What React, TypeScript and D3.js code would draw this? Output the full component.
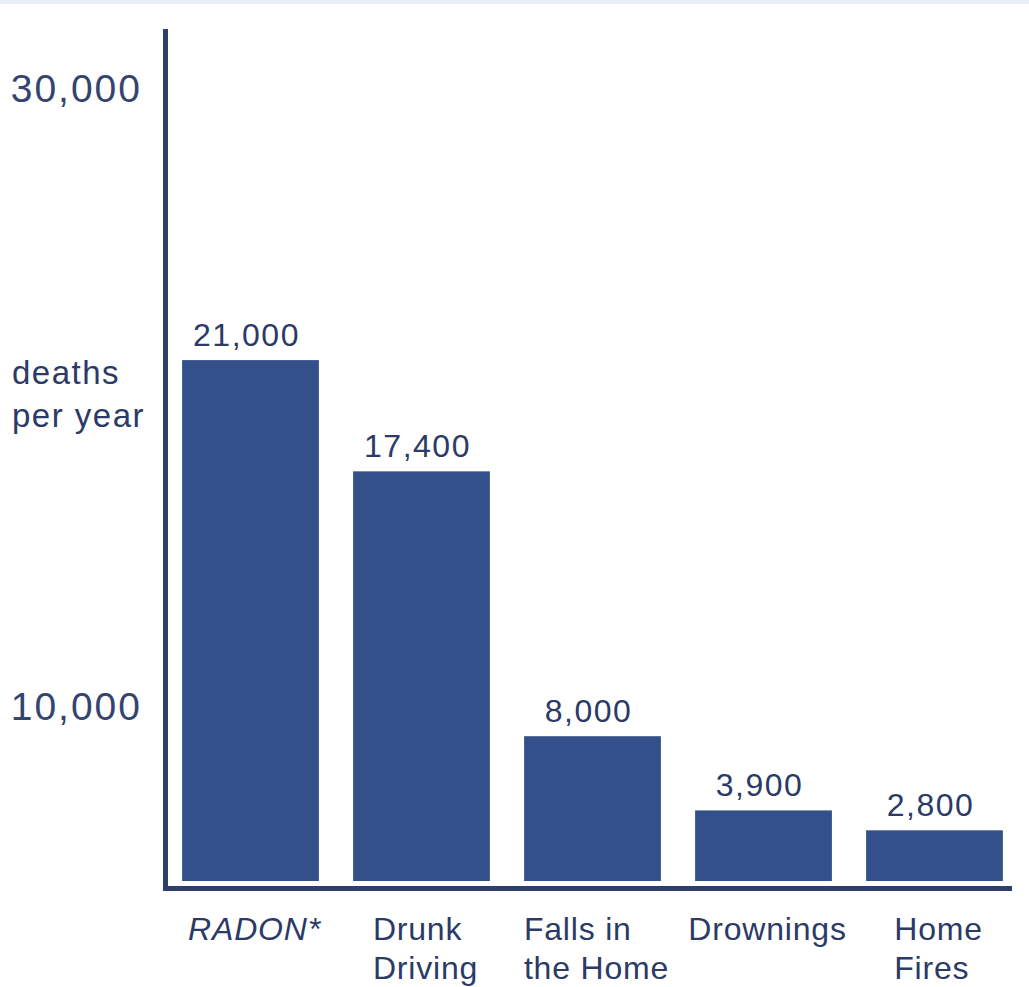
import React, { useEffect, useRef } from "react";
import * as d3 from "d3";

const categories: string[][] = [["RADON*"], ["Drunk", "Driving"], ["Falls in", "the Home"], ["Drownings"], ["Home", "Fires"]];
const italicFlags: boolean[] = [true, false, false, false, false];
const deathsPerYear: number[] = [21000, 17400, 8000, 3900, 2800];
const valueLabels: string[] = ["21,000", "17,400", "8,000", "3,900", "2,800"];
const tickValues: number[] = [10000, 30000];
const tickLabels: string[] = ["10,000", "30,000"];
const axisTitle: string[] = ["deaths", "per year"];

const W = 1029;
const H = 987;
const FONT = "'Liberation Sans', Arial, sans-serif";
const NAVY = "#2b3a66";
const BAR = "#33508b";
const AXIS = "#2f3f6c";

export default function App() {
  const ref = useRef<SVGSVGElement>(null);

  useEffect(() => {
    const svg = d3.select(ref.current);
    svg.selectAll("*").remove();

    // faint top strip
    svg.append("rect").attr("x", 0).attr("y", 0).attr("width", W).attr("height", 4).attr("fill", "#e9eff6");

    const x = d3
      .scaleBand<number>()
      .domain(d3.range(deathsPerYear.length))
      .range([165, 1020])
      .paddingInner(0.2)
      .paddingOuter(0.1);

    const baseline = 881;
    const y = d3.scaleLinear().domain([0, 10000, 30000]).range([baseline, 700, 82]);

    // bars
    svg
      .selectAll("rect.bar")
      .data(deathsPerYear)
      .enter()
      .append("rect")
      .attr("class", "bar")
      .attr("x", (_, i) => x(i)!)
      .attr("y", (d) => y(d))
      .attr("width", x.bandwidth())
      .attr("height", (d) => baseline - y(d))
      .attr("fill", BAR);

    // value labels
    svg
      .selectAll("text.val")
      .data(deathsPerYear)
      .enter()
      .append("text")
      .attr("class", "val")
      .attr("x", (_, i) => x(i)! + x.bandwidth() / 2 - 4)
      .attr("y", (d) => y(d) - 14)
      .attr("text-anchor", "middle")
      .attr("font-family", FONT)
      .attr("font-size", 32)
      .attr("letter-spacing", 1.5)
      .attr("fill", NAVY)
      .text((_, i) => valueLabels[i]);

    // axes lines
    svg
      .append("line")
      .attr("x1", 165.5)
      .attr("x2", 165.5)
      .attr("y1", 29)
      .attr("y2", 891)
      .attr("stroke", AXIS)
      .attr("stroke-width", 5);
    svg
      .append("line")
      .attr("x1", 163)
      .attr("x2", 1012)
      .attr("y1", 888.5)
      .attr("y2", 888.5)
      .attr("stroke", AXIS)
      .attr("stroke-width", 5);

    // y tick labels
    svg
      .selectAll("text.tick")
      .data(tickValues)
      .enter()
      .append("text")
      .attr("class", "tick")
      .attr("x", 142)
      .attr("y", (d) => y(d) + 20)
      .attr("text-anchor", "end")
      .attr("font-family", FONT)
      .attr("font-size", 39)
      .attr("letter-spacing", 2)
      .attr("fill", "#34446f")
      .text((_, i) => tickLabels[i]);

    // axis title
    svg
      .append("text")
      .attr("font-family", FONT)
      .attr("font-size", 33)
      .attr("letter-spacing", 1.5)
      .attr("fill", NAVY)
      .selectAll("tspan")
      .data(axisTitle)
      .enter()
      .append("tspan")
      .attr("x", 12)
      .attr("y", (_, i) => 384 + i * 43)
      .text((d) => d);

    // category labels (left-aligned lines, block centered under bar)
    categories.forEach((lines, i) => {
      const g = svg.append("text")
        .attr("font-family", FONT)
        .attr("font-size", 32)
        .attr("letter-spacing", 0.8)
        .attr("fill", NAVY)
        .attr("font-style", italicFlags[i] ? "italic" : "normal");
      const spans = g
        .selectAll("tspan")
        .data(lines)
        .enter()
        .append("tspan")
        .attr("y", (_, j) => 940 + j * 39)
        .text((d) => d);
      let maxW = 0;
      spans.each(function () {
        const w = (this as SVGTSpanElement).getComputedTextLength();
        if (w > maxW) maxW = w;
      });
      const cx = x(i)! + x.bandwidth() / 2 + 4;
      spans.attr("x", cx - maxW / 2);
    });
  }, []);

  return (
    <svg
      ref={ref}
      width={W}
      height={H}
      style={{ position: "absolute", left: 0, top: 0, background: "#ffffff" }}
    />
  );
}
